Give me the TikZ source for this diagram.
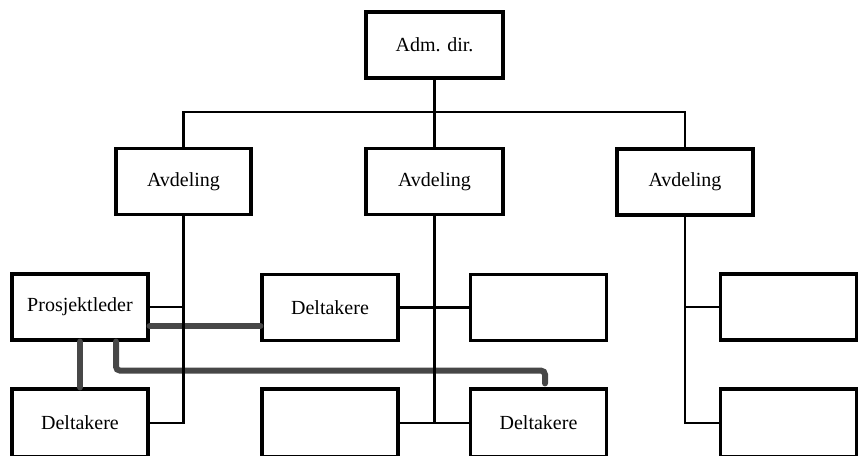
\documentclass[tikz,border=0pt]{standalone}
\usepackage{fontspec}
\setmainfont{Liberation Serif}
\begin{document}
\begin{tikzpicture}[x=1pt,y=-1pt,
  box/.style={draw, line width=3.2pt, fill=white, minimum width=136pt, minimum height=66pt,
    inner sep=0pt, font=\fontsize{20}{24}\selectfont},
  lowbox/.style={box, minimum height=68pt},
  link/.style={line width=2.6pt},
  route/.style={line width=6pt, black!72, line cap=round}]
\useasboundingbox (0,0) rectangle (858,455);

% top of the hierarchy
\node[box, minimum width=137pt] (adm) at (434.5,45) {Adm. dir.};
\node[box, minimum width=135pt] (av1) at (183.5,181.5) {Avdeling};
\node[box, minimum width=137pt] (av2) at (434.5,181.5) {Avdeling};
\node[box] (av3) at (685,182) {Avdeling};

% left department
\node[box] (pl) at (80,307) {Prosjektleder};
\node[lowbox] (d1) at (80,423) {Deltakere};

% middle department
\node[box] (dm1) at (330,307.5) {Deltakere};
\node[box] (e1) at (538.5,307.5) {};
\node[lowbox] (e2) at (330,423) {};
\node[lowbox] (d2) at (538.5,423) {Deltakere};

% right department
\node[box] (e3) at (788.5,307) {};
\node[lowbox] (e4) at (788.5,423) {};

% project links across the departments
\coordinate (p1) at ([yshift=-19pt]pl.east);
\coordinate (p2) at ([xshift=36pt]pl.south);
\coordinate (p3) at ([xshift=6.5pt]d2.north);
\draw[route] (p1) -- (p1 -| dm1.west);
\draw[route] (pl.south) -- (d1.north);
\draw[route, rounded corners=4pt, shorten >=4pt] (p2) -- ++(0,29) -| (p3);

% line organisation
\draw[link] (adm.south) -- (av2.north);
\draw[link] (av1.north) -- ++(0,-35) -| (av3.north);
\draw[link] (av1.south) |- (d1.east);
\draw[link] (pl.east) -- (pl.east -| av1.south);
\draw[link] (av2.south) -- (av2.south |- d2.west);
\draw[link] (dm1.east) -- (e1.west);
\draw[link] (e2.east) -- (d2.west);
\draw[link] (av3.south) |- (e4.west);
\draw[link] (e3.west) -- (e3.west -| av3.south);
\end{tikzpicture}
\end{document}
